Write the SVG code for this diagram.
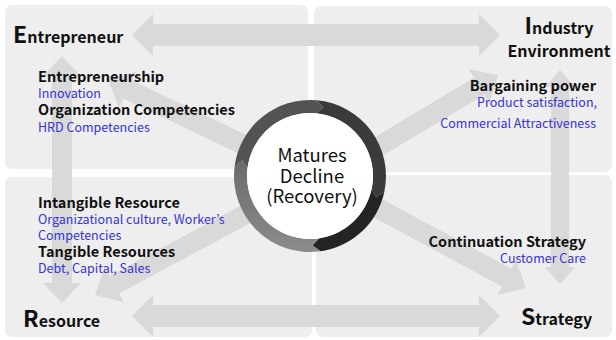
<svg xmlns="http://www.w3.org/2000/svg" width="616" height="340" viewBox="0 0 616 340">
<style>
.panel{fill:#eeeeee}
.arw{fill:#d9d9d9}
text{font-family:"Noto Sans CJK KR","Noto Sans",sans-serif}
.title{font-size:16px;font-weight:bold;fill:#111}
.big{font-size:23px}
.lbl{font-size:14.5px;font-weight:bold;fill:#111}
.sub{font-size:12.5px;fill:#3535d4}
.ctr{font-size:18.5px;fill:#111;text-anchor:middle}
</style>
<defs>
<linearGradient id="gg" gradientUnits="userSpaceOnUse" x1="0" y1="252" x2="0" y2="160">
<stop offset="0" stop-color="#8c8c8c"/>
<stop offset="1" stop-color="#6a6a6a"/>
</linearGradient>
</defs>
<rect width="616" height="340" fill="#ffffff"/>
<g id="panels">
<rect class="panel" x="5" y="5" width="303" height="164" rx="7"/>
<rect class="panel" x="314" y="6" width="298" height="166" rx="7"/>
<rect class="panel" x="5" y="177" width="307" height="160" rx="7"/>
<rect class="panel" x="316" y="175" width="296" height="162" rx="7"/>
</g>
<g id="connectors">
<polygon class="arw" points="132,35 153,14 153,24 479,24 479,14 500,35 479,56 479,46 153,46 153,56"/>
<polygon class="arw" points="132,316 153,295 153,305 479,305 479,295 500,316 479,337 479,327 153,327 153,337"/>
<polygon class="arw" points="62,56 81,76 72,76 72,283 81,283 62,303 43,283 52,283 52,76 43,76"/>
<polygon class="arw" points="560,70 575,87 569,87 569,267 575,267 560,284 545,267 551,267 551,87 545,87"/>
<polygon class="arw" points="304.31,162.58 132.16,80.45 136.46,71.42 108,80 119.24,107.52 123.54,98.49 295.69,180.62"/>
<polygon class="arw" points="325.13,190.08 484.25,94.87 489.39,103.45 498,75 468.85,69.13 473.99,77.71 314.87,172.92"/>
<polygon class="arw" points="295.28,176.38 109.68,275.79 104.96,266.98 95,295 123.84,302.24 119.12,293.43 304.72,194.02"/>
<polygon class="arw" points="315.26,185.91 501.89,286.38 497.15,295.18 526,288 516.11,259.96 511.37,268.77 324.74,168.30"/>
</g>
<g id="entrepreneur">
<text class="title" x="13" y="43"><tspan class="big">E</tspan>ntrepreneur</text>
<text class="lbl" x="38" y="82">Entrepreneurship</text>
<text class="sub" x="38" y="98">Innovation</text>
<text class="lbl" x="38" y="115">Organization Competencies</text>
<text class="sub" x="38" y="132">HRD Competencies</text>
</g>
<g id="industry">
<text class="title" x="559" y="34" text-anchor="middle"><tspan class="big">I</tspan>ndustry</text>
<text class="title" x="559" y="57" text-anchor="middle">Environment</text>
<text class="lbl" x="596" y="91" text-anchor="end">Bargaining power</text>
<text class="sub" x="597" y="107" text-anchor="end">Product satisfaction,</text>
<text class="sub" x="596" y="128" text-anchor="end">Commercial Attractiveness</text>
</g>
<g id="resource">
<text class="title" x="23" y="327"><tspan class="big">R</tspan>esource</text>
<text class="lbl" x="38" y="208">Intangible Resource</text>
<text class="sub" x="38" y="224">Organizational culture, Worker’s</text>
<text class="sub" x="38" y="240">Competencies</text>
<text class="lbl" x="38" y="257">Tangible Resources</text>
<text class="sub" x="38" y="273">Debt, Capital, Sales</text>
</g>
<g id="strategy">
<text class="title" x="521" y="325"><tspan class="big">S</tspan>trategy</text>
<text class="lbl" x="586" y="247" text-anchor="end">Continuation Strategy</text>
<text class="sub" x="586" y="263" text-anchor="end">Customer Care</text>
</g>
<g id="cycle">
<path fill="#3b3b3b" d="M316.63,100.29 A76,76 0 0 1 384.34,191.80 L376.10,197.48 L371.62,189.10 A63,63 0 0 0 315.49,113.24 L323.26,107.78 Z"/>
<path fill="#242424" d="M384.34,191.80 A76,76 0 0 1 320.58,251.26 L312.43,245.46 L318.77,238.39 A63,63 0 0 0 371.62,189.10 L376.10,197.48 Z"/>
<path fill="url(#gg)" d="M320.58,251.26 A76,76 0 0 1 234.57,166.74 L242.28,160.36 L247.47,168.32 A63,63 0 0 0 318.77,238.39 L312.43,245.46 Z"/>
<path fill="#535353" d="M234.57,166.74 A76,76 0 0 1 316.63,100.29 L323.26,107.78 L315.49,113.24 A63,63 0 0 0 247.47,168.32 L242.28,160.36 Z"/>
<circle cx="310" cy="176" r="63" fill="#ffffff"/>
<text class="ctr" x="312" y="162">Matures</text>
<text class="ctr" x="312" y="183">Decline</text>
<text class="ctr" x="312" y="203">(Recovery)</text>
</g>
</svg>
